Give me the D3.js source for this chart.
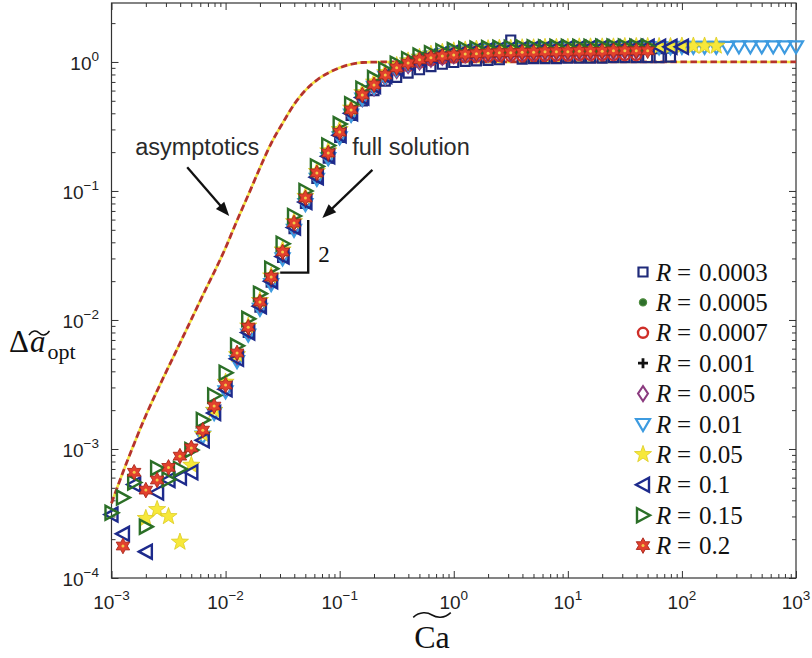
<!DOCTYPE html>
<html><head><meta charset="utf-8">
<script src="https://cdn.jsdelivr.net/npm/d3@7/dist/d3.min.js"></script>
<style>body{margin:0;background:#fff}svg{display:block}</style>
</head><body>
<svg id="c" width="812" height="658"></svg>
<script>
// ---------- data ----------
const caGrid = [
 0.001,0.00126,0.00158,0.002,0.00251,0.00316,0.00398,0.00501,0.00631,0.00794,
 0.01,0.0126,0.0158,0.02,0.0251,0.0316,0.0398,0.0501,0.0631,0.0794,
 0.1,0.126,0.158,0.2,0.251,0.316,0.398,0.501,0.631,0.794,
 1,1.26,1.58,2,2.51,3.16,3.98,5.01,6.31,7.94,
 10,12.6,15.8,20,25.1,31.6,39.8,50.1,63.1,79.4,
 100,126,158,200,251,316,398,501,631,794,
 1000];
const seriesLabels = ["0.0003","0.0005","0.0007","0.001","0.005","0.01","0.05","0.1","0.15","0.2"];
const seriesStart  = [12, 12, 11, 11, 10, 8, 3, 0, 0, 1];   // first index in caGrid
const y0003 = [0.008,0.0126,0.0196,0.0305,0.051,0.08,0.125,0.18,0.26,0.385,0.5,0.6,0.71,0.76,0.82,0.87,0.92,0.96,0.99,
 1.01,1.02,1.03,1.04,1.48,1.05,1.06,1.06,1.06,1.07,1.07,1.07,1.07,1.08,1.08,1.08,1.08,1.08,1.09];
const y0005 = [0.0086,0.0135,0.021,0.033,0.055,0.087,0.136,0.195,0.285,0.42,0.55,0.67,0.8,0.91,0.99,1.06,1.11,1.15,1.18,
 1.2,1.22,1.23,1.24,1.25,1.25,1.26,1.26,1.27,1.27,1.27,1.28,1.28,1.28,1.28,1.29,1.29];
const y0007 = [0.0051,0.0083,0.013,0.0203,0.0318,0.053,0.084,0.131,0.188,0.275,0.405,0.53,0.64,0.76,0.86,0.93,0.99,1.03,1.06,1.08,
 1.09,1.1,1.1,1.11,1.11,1.11,1.12,1.12,1.12,1.12,1.13,1.13,1.13,1.13,1.13,1.13];
const y001 = [0.0053,0.0085,0.0133,0.0208,0.0326,0.055,0.086,0.134,0.192,0.28,0.41,0.54,0.65,0.78,0.88,0.96,1.02,1.07,1.1,1.13,
 1.15,1.16,1.17,1.17,1.18,1.18,1.19,1.19,1.19,1.2,1.2,1.2,1.2,1.21,1.21,1.21];
const y005 = [0.0029,0.005,0.0081,0.0127,0.0198,0.031,0.052,0.081,0.127,0.183,0.265,0.395,0.52,0.63,0.76,0.86,0.94,1.0,1.05,1.09,1.12,
 1.14,1.15,1.16,1.17,1.17,1.18,1.18,1.19,1.19,1.19,1.2,1.2,1.2,1.2,1.21,1.21];
const y01 = [0.00125,0.0019,0.0028,0.0048,0.0077,0.0122,0.019,0.03,0.05,0.079,0.124,0.18,0.26,0.39,0.52,0.64,0.77,0.88,0.97,1.04,1.1,1.15,1.19,1.21,1.23,1.24,
 1.25,1.26,1.26,1.27,1.27,1.28,1.28,1.28,1.29,1.29,1.29,1.3,1.3,1.3,1.3,1.3,1.31,1.31,1.31,1.31,1.31,1.32,1.32,1.32,1.32,1.32,1.32];
const y05 = [0.00029,0.00034,0.0003,0.00019,0.00075,0.0013,0.002,0.0033,0.0054,0.009,0.0142,0.022,0.035,0.058,0.091,0.142,0.205,0.3,0.44,0.58,
 0.7,0.83,0.94,1.02,1.09,1.15,1.19,1.22,1.24,1.26,1.27,
 1.28,1.28,1.29,1.29,1.3,1.3,1.3,1.31,1.31,1.31,1.31,1.32,1.32,1.32,1.32,1.32,1.33,1.33,1.33,1.33];
const y1 = [0.00031,0.00022,0.00053,0.00016,0.00046,0.000575,0.0006,0.00066,0.00117,0.0019,0.0029,0.005,0.008,0.0128,0.02,0.031,0.052,0.082,0.128,0.186,
 0.27,0.4,0.53,0.65,0.78,0.89,0.98,1.05,1.11,1.16,1.2,1.22,1.24,1.25,
 1.26,1.27,1.27,1.28,1.28,1.29,1.29,1.29,1.3,1.3,1.3,1.3,1.31,1.31,1.31,1.31,1.31];
const y15 = [0.00032,0.00042,0.00055,0.00025,0.00071,0.00058,0.0007,0.00098,0.00168,0.0026,0.0039,0.0063,0.0102,0.016,0.025,0.039,0.064,0.1,0.155,0.225,
 0.33,0.47,0.62,0.75,0.87,0.97,1.05,1.12,1.17,1.21,1.24,1.26,1.27,1.28,
 1.29,1.29,1.3,1.3,1.3,1.31,1.31,1.31,1.31,1.32,1.32,1.32,1.32,1.32];
const y2 = [0.000177,0.00066,0.00048,0.000575,0.00072,0.00088,0.00102,0.0014,0.00215,0.00313,0.00555,0.0088,0.0138,0.0215,0.0337,0.0565,0.0883,0.138,0.197,0.286,
 0.425,0.555,0.664,0.792,0.9,0.98,1.04,1.08,1.11,1.13,1.15,1.16,1.17,1.18,1.18,1.19,1.19,1.2,1.2,1.2,1.21,1.21,1.21,1.22,1.22,1.22,1.22];
const seriesY = [y0003,y0005,y0007,y001,y005,y01,y05,y1,y15,y2];

const asymCa = [0.001,0.00126,0.00158,0.002,0.00251,0.00398,0.00631,0.01,0.0126,0.0158,0.02,0.0251,0.0316,0.0398,0.0501,0.0631,0.0794,0.1,0.126,0.158,0.251,1,10,100,1000];
const asymY  = [0.00038,0.00066,0.0011,0.00182,0.00282,0.0066,0.0155,0.0363,0.059,0.093,0.151,0.234,0.335,0.468,0.603,0.724,0.822,0.902,0.96,0.99,1.0,1.0,1.0,1.0,1.0];

const xTickExp = [-3,-2,-1,0,1,2,3];
const yTickExp = [-4,-3,-2,-1,0];

// ---------- layout ----------
const svg = d3.select("#c");
const L = 111.5, R = 796, T = 3, B = 578;
const x = d3.scaleLog().domain([1e-3, 1e3]).range([L, R]);
const y = d3.scaleLog().domain([1e-4, 2.864]).range([B, T]);
const sans = "'Liberation Sans', Arial, Helvetica, sans-serif";
const serif = "'Liberation Serif', 'Times New Roman', serif";

// ticks
const majX = xTickExp.map(e => Math.pow(10, e));
const majY = yTickExp.map(e => Math.pow(10, e));
const minX = [], minY = [];
xTickExp.slice(0, -1).forEach(e => { for (let k = 2; k <= 9; k++) minX.push(k * Math.pow(10, e)); });
yTickExp.slice(0, -1).forEach(e => { for (let k = 2; k <= 9; k++) minY.push(k * Math.pow(10, e)); });
minY.push(2, 3, 4, 5, 6, 7, 8, 9);
const minYin = minY.filter(v => v <= 2.864);

function styleAxis(g) {
  g.select(".domain").remove();
  g.selectAll(".tick line").attr("stroke", "#333").attr("stroke-width", 1);
}
const axes = svg.append("g");
[[majX, 7], [minX, 4]].forEach(([vals, len]) => {
  axes.append("g").attr("transform", `translate(0,${B})`)
    .call(d3.axisBottom(x).tickValues(vals).tickSize(-len).tickSizeOuter(0).tickFormat("")).call(styleAxis);
  axes.append("g").attr("transform", `translate(0,${T})`)
    .call(d3.axisTop(x).tickValues(vals).tickSize(-len).tickSizeOuter(0).tickFormat("")).call(styleAxis);
});
[[majY, 7], [minYin, 4]].forEach(([vals, len]) => {
  axes.append("g").attr("transform", `translate(${L},0)`)
    .call(d3.axisLeft(y).tickValues(vals).tickSize(-len).tickSizeOuter(0).tickFormat("")).call(styleAxis);
  axes.append("g").attr("transform", `translate(${R},0)`)
    .call(d3.axisRight(y).tickValues(vals).tickSize(-len).tickSizeOuter(0).tickFormat("")).call(styleAxis);
});
axes.append("rect").attr("x", L).attr("y", T).attr("width", R - L).attr("height", B - T)
  .attr("fill", "none").attr("stroke", "#333").attr("stroke-width", 1.2);

function expLabel(sel, e) {
  sel.append("tspan").text("10");
  sel.append("tspan").attr("font-size", 13.5).attr("dy", -9).text((e < 0 ? "\u2212" : "") + Math.abs(e));
}
xTickExp.forEach(e => {
  const t = svg.append("text").attr("x", x(Math.pow(10, e))).attr("y", 609)
    .attr("text-anchor", "middle").attr("font-family", sans).attr("font-size", 19).attr("fill", "#222");
  expLabel(t, e);
});
yTickExp.forEach(e => {
  const t = svg.append("text").attr("x", 99).attr("y", y(Math.pow(10, e)) + 8)
    .attr("text-anchor", "end").attr("font-family", sans).attr("font-size", 19).attr("fill", "#222");
  expLabel(t, e);
});

// tilde helper
function tilde(x0, x1, yc, amp) {
  const w = x1 - x0;
  return `M${x0},${yc + amp}C${x0 + w * 0.18},${yc - amp * 1.6} ${x0 + w * 0.38},${yc - amp * 1.2} ${x0 + w * 0.5},${yc}` +
         `S${x0 + w * 0.82},${yc + amp * 1.6} ${x1},${yc - amp}`;
}
// y axis title
{
  const g = svg.append("g").attr("font-family", serif).attr("fill", "#111");
  const d = g.append("text").attr("x", 9).attr("y", 352).attr("font-size", 31).text("\u0394");
  const dw = d.node().getComputedTextLength();
  const a = g.append("text").attr("x", 9 + dw + 1).attr("y", 352).attr("font-size", 31).attr("font-style", "italic").text("a");
  const aw = a.node().getComputedTextLength();
  g.append("text").attr("x", 9 + dw + aw + 3).attr("y", 359).attr("font-size", 22).text("opt");
  g.append("path").attr("d", tilde(9 + dw, 9 + dw + aw + 5, 333, 2.2)).attr("fill", "none").attr("stroke", "#111").attr("stroke-width", 1.5);
}
// x axis title
{
  const g = svg.append("g").attr("font-family", serif).attr("fill", "#111");
  const t = g.append("text").attr("x", 432).attr("y", 648).attr("font-size", 32).attr("text-anchor", "middle").text("Ca");
  const w = t.node().getComputedTextLength();
  g.append("path").attr("d", tilde(432 - w / 2 - 1, 432 + w / 2 + 1, 615, 2.4)).attr("fill", "none").attr("stroke", "#111").attr("stroke-width", 1.5);
}

// ---------- asymptotics curve ----------
const asymPts = asymCa.map((c, i) => [c, asymY[i]]);
const line = d3.line().x(d => x(d[0])).y(d => y(d[1])).curve(d3.curveMonotoneX);
svg.append("path").attr("d", line(asymPts)).attr("fill", "none")
  .attr("stroke", "#f3e640").attr("stroke-width", 2.6).attr("stroke-dasharray", "4,6").attr("stroke-dashoffset", -6.5);
svg.append("path").attr("d", line(asymPts)).attr("fill", "none")
  .attr("stroke", "#b5332b").attr("stroke-width", 2.8).attr("stroke-dasharray", "6.5,3.5");

// ---------- markers ----------
function starPath(n, ro, ri) {
  const p = [];
  for (let i = 0; i < 2 * n; i++) {
    const r = i % 2 ? ri : ro, a = Math.PI * i / n - Math.PI / 2;
    p.push((r * Math.cos(a)).toFixed(2) + "," + (r * Math.sin(a)).toFixed(2));
  }
  return "M" + p.join("L") + "Z";
}
const markerDefs = [
  {d: "M-4.5,-4.5H4.5V4.5H-4.5Z", fill: "none", stroke: "#1f2a7a", sw: 2.2},
  {circle: 3.6, fill: "#2f6f2c", stroke: "#4d8c3e", sw: 1.2},
  {circle: 5, fill: "none", stroke: "#cf2e28", sw: 2.4},
  {d: "M-5,0H5M0,-5V5", fill: "none", stroke: "#111", sw: 2.8},
  {d: "M0,-7.5L5,0L0,7.5L-5,0Z", fill: "none", stroke: "#8b3b7f", sw: 2},
  {d: "M-7,-5L7,-5L0,7Z", fill: "none", stroke: "#3d9be0", sw: 2.2},
  {d: starPath(5, 9, 3.7), fill: "#f7e83a", stroke: "#dccb22", sw: 0.8},
  {d: "M-7,0L6,-7L6,7Z", fill: "none", stroke: "#1d2a8c", sw: 2.4},
  {d: "M7,0L-6,-7L-6,7Z", fill: "none", stroke: "#2b6f27", sw: 2.4},
  {d: starPath(6, 7.8, 4.4), fill: "#e2402d", stroke: "#a8261c", sw: 0.9, dot: true}
];
function drawMarker(g, m, cx, cy) {
  const gg = g.append("g").attr("transform", `translate(${cx},${cy})`);
  if (m.circle) gg.append("circle").attr("r", m.circle).attr("fill", m.fill).attr("stroke", m.stroke).attr("stroke-width", m.sw);
  else gg.append("path").attr("d", m.d).attr("fill", m.fill).attr("stroke", m.stroke).attr("stroke-width", m.sw).attr("stroke-linejoin", "miter");
  if (m.dot) gg.append("circle").attr("r", 1.5).attr("fill", "#f2c94a");
}
const dataG = svg.append("g");
seriesY.forEach((ys, s) => {
  const g = dataG.append("g");
  ys.forEach((v, i) => drawMarker(g, markerDefs[s], x(caGrid[seriesStart[s] + i]), y(v)));
});

// ---------- annotations (data coordinates) ----------
function arrow(p0, p1) {
  const x0 = x(p0[0]), y0 = y(p0[1]), x1 = x(p1[0]), y1 = y(p1[1]);
  const a = Math.atan2(y1 - y0, x1 - x0), hl = 14, hw = 5.5;
  const bx = x1 - hl * Math.cos(a), by = y1 - hl * Math.sin(a);
  svg.append("line").attr("x1", x0).attr("y1", y0).attr("x2", bx + 2 * Math.cos(a)).attr("y2", by + 2 * Math.sin(a))
    .attr("stroke", "#111").attr("stroke-width", 2.3);
  svg.append("path").attr("d", `M${x1},${y1}L${bx - hw * Math.sin(a)},${by + hw * Math.cos(a)}L${bx + hw * Math.sin(a)},${by - hw * Math.cos(a)}Z`)
    .attr("fill", "#111");
}
svg.append("text").attr("x", x(0.00564)).attr("y", y(0.19)).attr("text-anchor", "middle")
  .attr("font-family", sans).attr("font-size", 23.5).attr("fill", "#2a2a2a").text("asymptotics");
svg.append("text").attr("x", x(0.4217)).attr("y", y(0.19)).attr("text-anchor", "middle")
  .attr("font-family", sans).attr("font-size", 23.5).attr("fill", "#2a2a2a").text("full solution");
arrow([0.00461, 0.153], [0.01076, 0.064]);
arrow([0.1936, 0.1455], [0.0705, 0.0618]);
// slope triangle
svg.append("path").attr("d", `M${x(0.053)},${y(0.0596)}V${y(0.0233)}H${x(0.0301)}`)
  .attr("fill", "none").attr("stroke", "#111").attr("stroke-width", 2.4);
svg.append("text").attr("x", x(0.065)).attr("y", y(0.0282)).attr("font-family", serif)
  .attr("font-size", 23).attr("fill", "#111").text("2");

// ---------- legend ----------
const leg = svg.append("g");
seriesLabels.forEach((lab, i) => {
  const cy = 272 + i * 30.4;
  drawMarker(leg, markerDefs[i], 643, cy);
  const t = leg.append("text").attr("y", cy + 8.5).attr("font-family", serif).attr("font-size", 25).attr("fill", "#111");
  t.append("tspan").attr("x", 656).attr("font-style", "italic").text("R");
  t.append("tspan").attr("x", 677).text("=");
  t.append("tspan").attr("x", 699).text(lab);
});
</script>
</body></html>
